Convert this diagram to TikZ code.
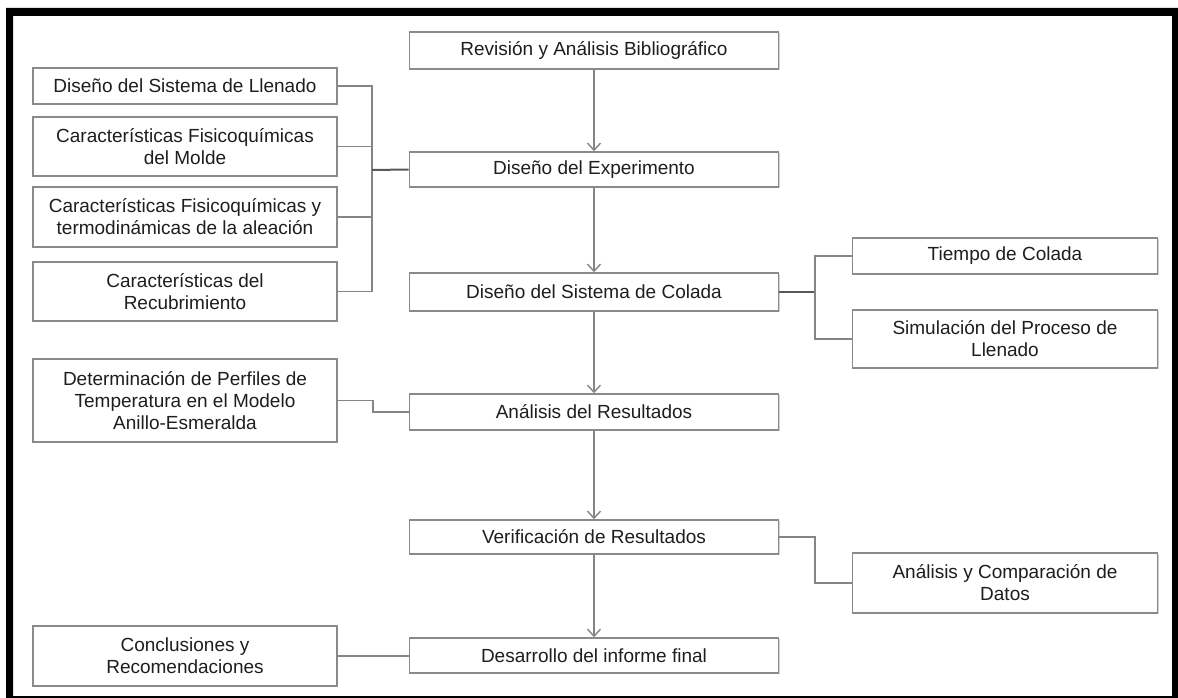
\documentclass[tikz,border=0pt]{standalone}
\usepackage{fontspec}
\setmainfont{Liberation Sans}
\usetikzlibrary{arrows.meta,shadows}
\definecolor{linegray}{HTML}{858585}
\definecolor{boxgray}{HTML}{8A8A8A}
\definecolor{textgray}{HTML}{1E1E1E}
\begin{document}
\begin{tikzpicture}
[x=1pt,y=-1pt,
  boxdecorate/.style={shape=rectangle,draw=boxgray,line width=1.6pt,fill=white,
    align=center,text=textgray,inner sep=2pt,
    font=\fontsize{19}{22}\selectfont,
    drop shadow={shadow xshift=1.2pt,shadow yshift=-1.2pt,fill=black!35,opacity=0.5}},
  linedecorate/.style={-,draw=linegray,line width=1.4pt},
  trunkdecorate/.style={-,draw=black!65,line width=2pt},
  arrowdecorate/.style={-{Straight Barb[length=7pt,width=13pt]},draw=linegray,line width=1.4pt}]
\useasboundingbox (0,0) rectangle (1178,698);
%% frame
\fill[black,even odd rule] (6,8) rectangle (1178,698) (13,16) rectangle (1172,696);
%% boxes
\foreach \nodename/\x/\y/\w/\h/\txt in {
  rev/594/50.5/369/37/{Revisión y Análisis Bibliográfico},
  exp/594/169.5/369/35/{Diseño del Experimento},
  col/594/292/369/38/{Diseño del Sistema de Colada},
  res/594/412/369/36/{Análisis del Resultados},
  ver/594/537/369/34/{Verificación de Resultados},
  inf/594/655.5/369/35/{Desarrollo del informe final},
  lle/185/86/304/36/{Diseño del Sistema de Llenado},
  mol/185/146.5/304/59/{Características Fisicoquímicas\\del Molde},
  ale/185/217/304/60/{Características Fisicoquímicas y\\termodinámicas de la aleación},
  rec/185/291.5/304/59/{Características del\\Recubrimiento},
  per/185/400.5/304/83/{Determinación de Perfiles de\\Temperatura en el Modelo\\Anillo-Esmeralda},
  con/185/656/304/60/{Conclusiones y\\Recomendaciones},
  tie/1005/256/305/36/{Tiempo de Colada},
  sim/1005/339/305/58/{Simulación del Proceso de\\Llenado},
  dat/1005/583/305/60/{Análisis y Comparación de\\Datos}} {
  \node (\nodename) at (\x,\y) [boxdecorate,minimum width=\w,minimum height=\h] {\txt};
}
%% joints
\coordinate (jl) at (372,170);
\coordinate (jp) at (373,406);
\coordinate (jr) at (815,292);
\coordinate (jv) at (815,560);
%% side lines
\foreach \startnode in {lle,mol,ale,rec} {
  \draw[linedecorate] (\startnode.east) -| (jl);
}
\draw[trunkdecorate] (jl) -- (exp.west);
\draw[linedecorate] (per.east) -| (jp) |- (res.west);
\draw[trunkdecorate] (col.east) -- (jr);
\foreach \endnode in {tie,sim} {
  \draw[linedecorate] (jr) |- (\endnode.west);
}
\draw[linedecorate] (ver.east) -| (jv) |- (dat.west);
\draw[linedecorate] (con.east) -- (con.east -| inf.west);
%% main arrows
\path
\foreach \startnode/\endnode in {rev/exp, exp/col, col/res, res/ver, ver/inf} {
  (\startnode) edge[arrowdecorate] (\endnode)
};
\end{tikzpicture}
\end{document}
